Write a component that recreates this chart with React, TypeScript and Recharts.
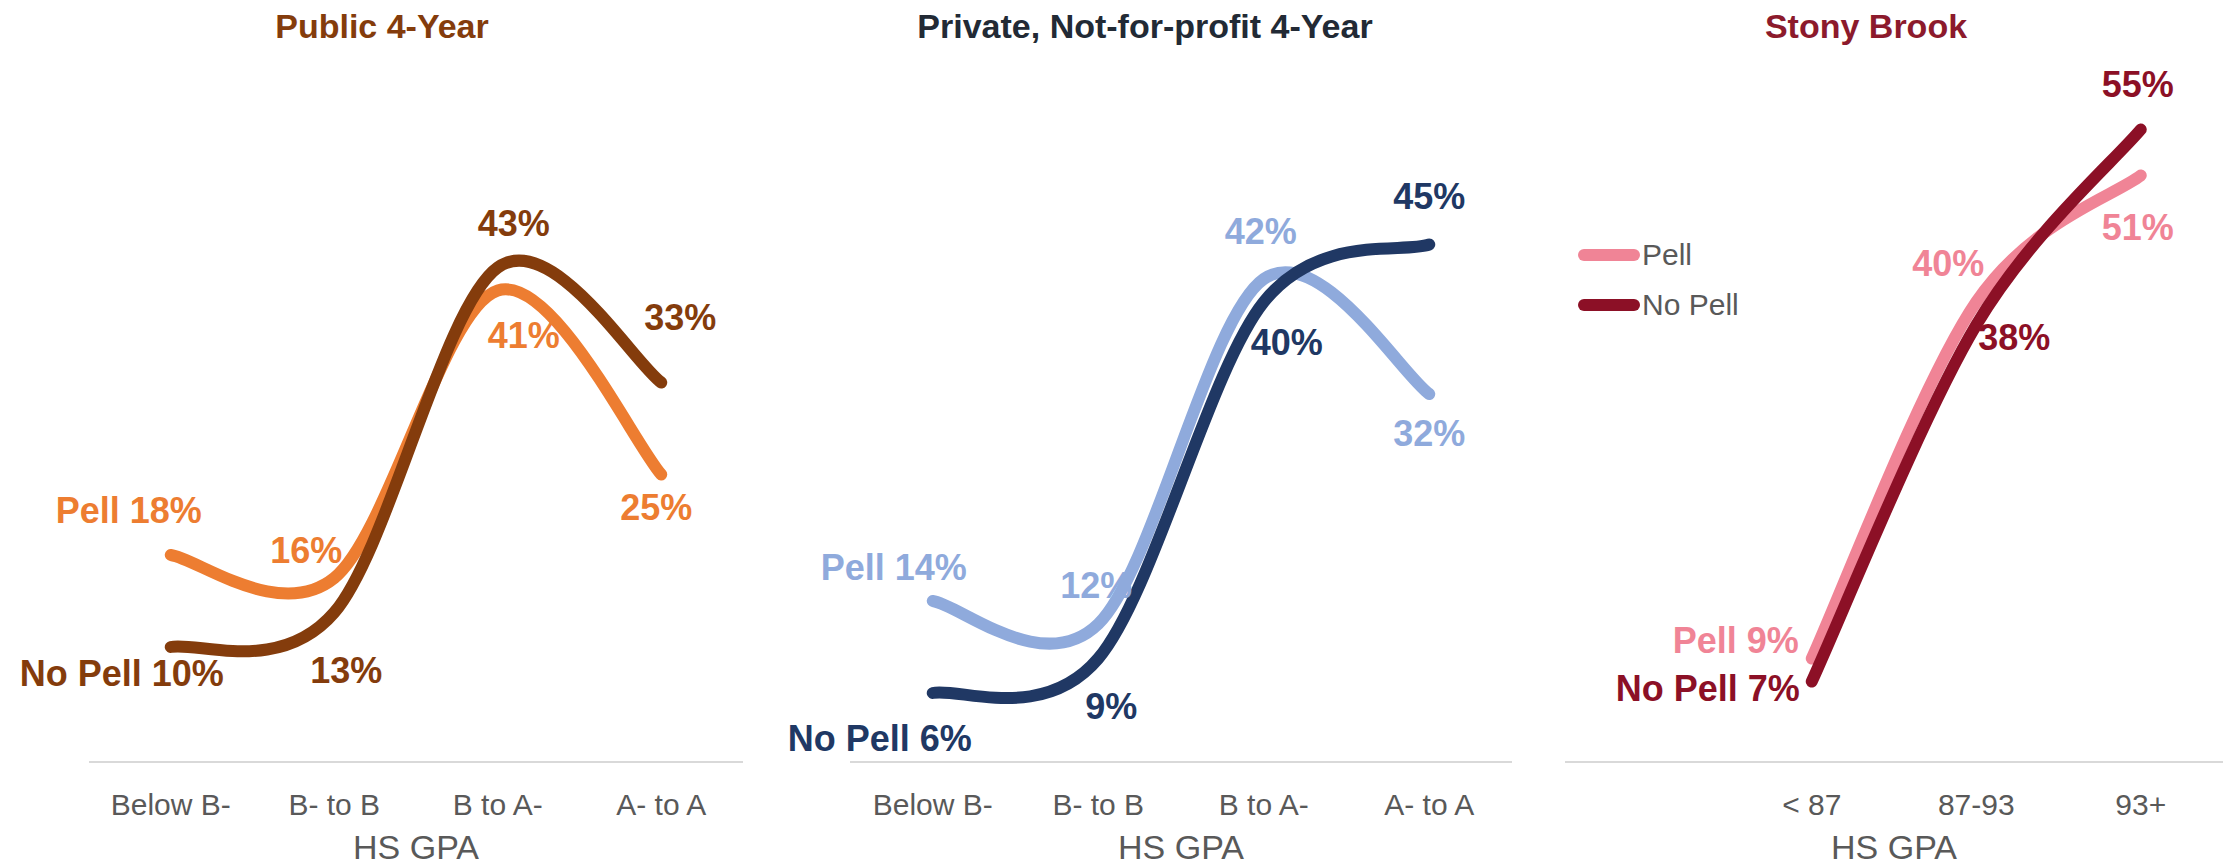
import React from "react";
import { LineChart, Line, XAxis, YAxis, Legend, LabelList } from "recharts";

const gpaBands = ["Below B-", "B- to B", "B to A-", "A- to A"];
const publicPell = [18, 16, 41, 25];
const publicNoPell = [10, 13, 43, 33];
const privatePell = [14, 12, 42, 32];
const privateNoPell = [6, 9, 40, 45];
const stonyBands = ["< 87", "87-93", "93+"];
const stonyPell = [9, 40, 51];
const stonyNoPell = [7, 38, 55];
const legendOrder = ["Pell", "No Pell"];

const FONT = '"Liberation Sans", Arial, Helvetica, sans-serif';
const GREY = "#595959";
const CHART_H = 867;
const PLOT_TOP = 72;
const AXIS_H = 105;

type Anchor = "start" | "middle" | "end";
type Spot = [number, number, Anchor?];

// where each data label sits, relative to its point
const publicPellSpots: Spot[] = [[-42, -45], [-28, -28], [26, 45], [-5, 33]];
const publicNoPellSpots: Spot[] = [[-49, 26], [12, 58], [16, -44], [19, -65]];
const privatePellSpots: Spot[] = [[-39, -34], [-2, -39], [-3, -48], [0, 39]];
const privateNoPellSpots: Spot[] = [[-53, 45], [13, 48], [23, 40], [0, -48]];
const stonyPellSpots: Spot[] = [[-13, -18, "end"], [-28, -39], [-3, 52]];
const stonyNoPellSpots: Spot[] = [[-12, 7, "end"], [38, 12], [-3, -45]];

// Excel-style smoothed line (Catmull-Rom through every point)
function excelSmooth(context: any) {
  let pts: [number, number][] = [];
  return {
    areaStart() {},
    areaEnd() {},
    lineStart() {
      pts = [];
    },
    point(x: number, y: number) {
      pts.push([+x, +y]);
    },
    lineEnd() {
      if (!pts.length) return;
      context.moveTo(pts[0][0], pts[0][1]);
      for (let i = 0; i < pts.length - 1; i++) {
        const p0 = pts[Math.max(i - 1, 0)];
        const p1 = pts[i];
        const p2 = pts[i + 1];
        const p3 = pts[Math.min(i + 2, pts.length - 1)];
        context.bezierCurveTo(
          p1[0] + (p2[0] - p0[0]) / 6,
          p1[1] + (p2[1] - p0[1]) / 6,
          p2[0] - (p3[0] - p1[0]) / 6,
          p2[1] - (p3[1] - p1[1]) / 6,
          p2[0],
          p2[1]
        );
      }
    },
  };
}

function spotLabel(spots: Spot[], color: string, prefix: string) {
  return (props: any) => {
    const { index, value } = props;
    if (value == null) return null;
    const x = props.viewBox?.x ?? props.x;
    const y = props.viewBox?.y ?? props.y;
    const [dx, dy, anchor] = spots[index] ?? [0, 0];
    return (
      <text
        x={x + dx}
        y={y + dy}
        textAnchor={anchor ?? "middle"}
        dominantBaseline="central"
        fill={color}
        fontSize={36}
        fontWeight="bold"
        fontFamily={FONT}
      >
        {index === 0 ? prefix : ""}
        {value}%
      </text>
    );
  };
}

function LegendBox({ payload }: any) {
  if (!payload) return null;
  const items = [...payload].sort(
    (a: any, b: any) => legendOrder.indexOf(a.value) - legendOrder.indexOf(b.value)
  );
  return (
    <div style={{ fontFamily: FONT }}>
      {items.map((item: any) => (
        <div key={item.value} style={{ display: "flex", alignItems: "center", height: 50 }}>
          <svg width={64} height={14}>
            <line x1={6} y1={7} x2={56} y2={7} stroke={item.color} strokeWidth={12} strokeLinecap="round" />
          </svg>
          <span style={{ fontSize: 30, color: GREY, lineHeight: "30px" }}>{item.value}</span>
        </div>
      ))}
    </div>
  );
}

interface PanelProps {
  left: number;
  width: number;
  plotLeft: number;
  plotRight: number;
  padLeft: number;
  padRight: number;
  categories: string[];
  pell: number[];
  noPell: number[];
  pellColor: string;
  noPellColor: string;
  pellSpots: Spot[];
  noPellSpots: Spot[];
  title: string;
  titleColor: string;
  titleX: number;
  legend?: boolean;
}

function Panel(p: PanelProps) {
  const data = p.categories.map((band, i) => ({ band, pell: p.pell[i], noPell: p.noPell[i] }));
  return (
    <>
      <div
        style={{
          position: "absolute",
          left: p.titleX - 300,
          width: 600,
          top: 9,
          height: 34,
          lineHeight: "34px",
          textAlign: "center",
          fontSize: 34,
          fontWeight: "bold",
          color: p.titleColor,
          fontFamily: FONT,
        }}
      >
        {p.title}
      </div>
      <div style={{ position: "absolute", left: p.left, top: 0 }}>
        <LineChart
          width={p.width}
          height={CHART_H}
          data={data}
          margin={{ top: PLOT_TOP, right: p.left + p.width - p.plotRight, bottom: 0, left: p.plotLeft - p.left }}
        >
          <XAxis
            dataKey="band"
            height={AXIS_H}
            padding={{ left: p.padLeft, right: p.padRight }}
            interval={0}
            tickLine={false}
            tickMargin={26}
            axisLine={{ stroke: "#D9D9D9", strokeWidth: 2 }}
            tick={{ fill: GREY, fontSize: 30, fontFamily: FONT }}
            label={{ value: "HS GPA", position: "insideBottom", offset: 8, fill: GREY, fontSize: 34, fontFamily: FONT }}
          />
          <YAxis hide domain={[0, 60]} />
          {p.legend && (
            <Legend
              layout="horizontal"
              align="center"
              verticalAlign="middle"
              wrapperStyle={{ left: 48, top: 230, width: 220 }}
              content={<LegendBox />}
            />
          )}
          <Line
            dataKey="pell"
            name="Pell"
            type={excelSmooth as any}
            stroke={p.pellColor}
            strokeWidth={12}
            strokeLinecap="round"
            dot={false}
            activeDot={false}
            isAnimationActive={false}
          >
            <LabelList dataKey="pell" content={spotLabel(p.pellSpots, p.pellColor, "Pell ")} />
          </Line>
          <Line
            dataKey="noPell"
            name="No Pell"
            type={excelSmooth as any}
            stroke={p.noPellColor}
            strokeWidth={12}
            strokeLinecap="round"
            dot={false}
            activeDot={false}
            isAnimationActive={false}
          >
            <LabelList dataKey="noPell" content={spotLabel(p.noPellSpots, p.noPellColor, "No Pell ")} />
          </Line>
        </LineChart>
      </div>
    </>
  );
}

export default function App() {
  return (
    <div style={{ position: "absolute", left: 0, top: 0, width: 2227, height: 867, background: "#fff", overflow: "hidden" }}>
      <Panel
        left={0}
        width={760}
        plotLeft={89}
        plotRight={743}
        padLeft={81.75}
        padRight={81.75}
        categories={gpaBands}
        pell={publicPell}
        noPell={publicNoPell}
        pellColor="#ED7D31"
        noPellColor="#843C0C"
        pellSpots={publicPellSpots}
        noPellSpots={publicNoPellSpots}
        title="Public 4-Year"
        titleColor="#843C0C"
        titleX={382}
      />
      <Panel
        left={760}
        width={770}
        plotLeft={850}
        plotRight={1512}
        padLeft={82.75}
        padRight={82.75}
        categories={gpaBands}
        pell={privatePell}
        noPell={privateNoPell}
        pellColor="#8FAADC"
        noPellColor="#203864"
        pellSpots={privatePellSpots}
        noPellSpots={privateNoPellSpots}
        title="Private, Not-for-profit 4-Year"
        titleColor="#222A35"
        titleX={1145}
      />
      <Panel
        left={1530}
        width={697}
        plotLeft={1565}
        plotRight={2223}
        padLeft={246.75}
        padRight={82.25}
        categories={stonyBands}
        pell={stonyPell}
        noPell={stonyNoPell}
        pellColor="#F08496"
        noPellColor="#8C1026"
        pellSpots={stonyPellSpots}
        noPellSpots={stonyNoPellSpots}
        title="Stony Brook"
        titleColor="#8C1A2C"
        titleX={1866}
        legend
      />
    </div>
  );
}
